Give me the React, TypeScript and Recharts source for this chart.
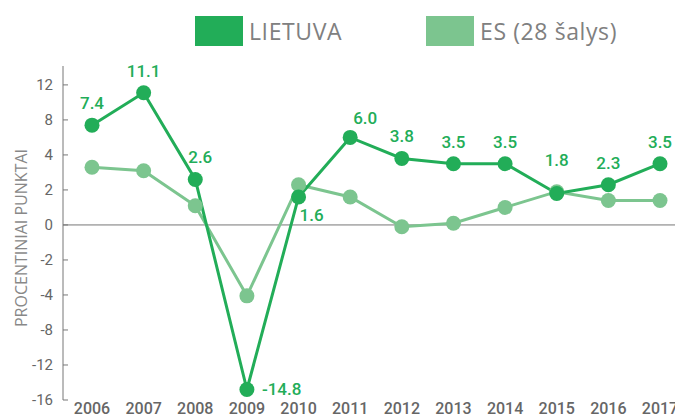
import React from 'react';
import { LineChart, Line, XAxis, YAxis, ReferenceLine, LabelList } from 'recharts';

document.body.style.margin = '0';

const years = ['2006', '2007', '2008', '2009', '2010', '2011', '2012', '2013', '2014', '2015', '2016', '2017'];
const lietuva = [7.4, 11.1, 2.6, -14.8, 1.6, 6.0, 3.8, 3.5, 3.5, 1.8, 2.3, 3.5];
const es = [3.3, 3.1, 1.1, -4.1, 2.3, 1.6, -0.1, 0.1, 1.0, 1.9, 1.4, 1.4];
const yTickLabels = [-16, -12, -8, -4, -2, 0, 2, 4, 8, 12];

const seriesNames = { lt: 'LIETUVA', es: 'ES (28 šalys)' };
const colors = { lt: '#22ad58', es: '#7cc58f' };

// the axis has evenly spaced ticks with uneven steps, so values are placed piecewise between ticks
const toPos = (v: number) => {
    for (let i = 0; i < yTickLabels.length - 1; i++) {
        const a = yTickLabels[i];
        const b = yTickLabels[i + 1];
        if (v <= b || i === yTickLabels.length - 2) return i + (v - a) / (b - a);
    }
    return 0;
};

const data = years.map((year, i) => ({
    year,
    lt: toPos(lietuva[i]),
    es: toPos(es[i]),
    ltValue: lietuva[i],
}));

const labelPlacement: Record<string, { dx: number; dy: number; anchor: 'start' | 'middle' }> = {
    '2008': { dx: 5, dy: -16, anchor: 'middle' },
    '2009': { dx: 15, dy: 6, anchor: 'start' },
    '2010': { dx: 1, dy: 24, anchor: 'start' },
    '2011': { dx: 3, dy: -13, anchor: 'start' },
    '2015': { dx: 0, dy: -27, anchor: 'middle' },
};

const YTick = (props: any) => {
    const { x, y, payload } = props;
    return (
        <g>
            <line x1={x + 10} x2={x + 15} y1={y} y2={y} stroke="#777" strokeWidth={1} />
            <text x={x} y={y} dy={5} textAnchor="end" fill="#666" fontSize={15} fontFamily="Roboto">
                {yTickLabels[payload.value]}
            </text>
        </g>
    );
};

const ValueLabel = (props: any) => {
    const { x, y, value, index } = props;
    const p = labelPlacement[years[index]] || { dx: 0, dy: -16, anchor: 'middle' };
    return (
        <text
            x={x + p.dx}
            y={y + p.dy}
            textAnchor={p.anchor}
            fill={colors.lt}
            fontSize={17}
            fontWeight={500}
            fontFamily="Roboto"
        >
            {Number(value).toFixed(1)}
        </text>
    );
};

const legendItems = [
    { name: seriesNames.lt, color: colors.lt, left: 195 },
    { name: seriesNames.es, color: colors.es, left: 426 },
];

export default function App() {
    return (
        <div style={{ position: 'relative', width: 675, height: 417 }}>
            {legendItems.map((item) => (
                <div
                    key={item.name}
                    style={{ position: 'absolute', left: item.left, top: 16, display: 'flex', alignItems: 'center' }}
                >
                    <div style={{ width: 48, height: 30, background: item.color }} />
                    <span
                        style={{
                            marginLeft: 6,
                            fontFamily: 'Open Sans',
                            fontSize: 23,
                            letterSpacing: 0.6,
                            color: '#808080',
                            lineHeight: '30px',
                        }}
                    >
                        {item.name}
                    </span>
                </div>
            ))}
            <LineChart width={675} height={417} data={data} margin={{ top: 66, right: 0, bottom: 0, left: 0 }}>
                <XAxis
                    dataKey="year"
                    axisLine={false}
                    tickLine={false}
                    tickSize={0}
                    tickMargin={3}
                    height={17}
                    padding={{ left: 29, right: 15 }}
                    interval={0}
                    tick={{ fill: '#666', fontSize: 16, fontWeight: 500, fontFamily: 'Roboto' }}
                />
                <YAxis
                    type="number"
                    domain={[0, 9.54]}
                    ticks={[0, 1, 2, 3, 4, 5, 6, 7, 8, 9]}
                    width={63}
                    axisLine={{ stroke: '#777', strokeWidth: 1 }}
                    tickLine={false}
                    tickSize={0}
                    tickMargin={10}
                    tick={<YTick />}
                    label={{
                        content: () => (
                            <text
                                x={21}
                                y={238}
                                transform="rotate(-90 21 238)"
                                textAnchor="middle"
                                dominantBaseline="central"
                                fill="#888"
                                fontSize={16}
                                fontFamily="Open Sans"
                            >
                                PROCENTINIAI PUNKTAI
                            </text>
                        ),
                    }}
                />
                <ReferenceLine y={toPos(0)} stroke="#777" strokeWidth={1} />
                <Line
                    dataKey="es"
                    stroke={colors.es}
                    strokeWidth={3}
                    dot={{ r: 7.5, fill: colors.es, stroke: colors.es, strokeWidth: 0 }}
                    activeDot={false}
                    isAnimationActive={false}
                />
                <Line
                    dataKey="lt"
                    stroke={colors.lt}
                    strokeWidth={3}
                    dot={{ r: 7.5, fill: colors.lt, stroke: colors.lt, strokeWidth: 0 }}
                    activeDot={false}
                    isAnimationActive={false}
                >
                    <LabelList dataKey="ltValue" content={<ValueLabel />} />
                </Line>
            </LineChart>
        </div>
    );
}
